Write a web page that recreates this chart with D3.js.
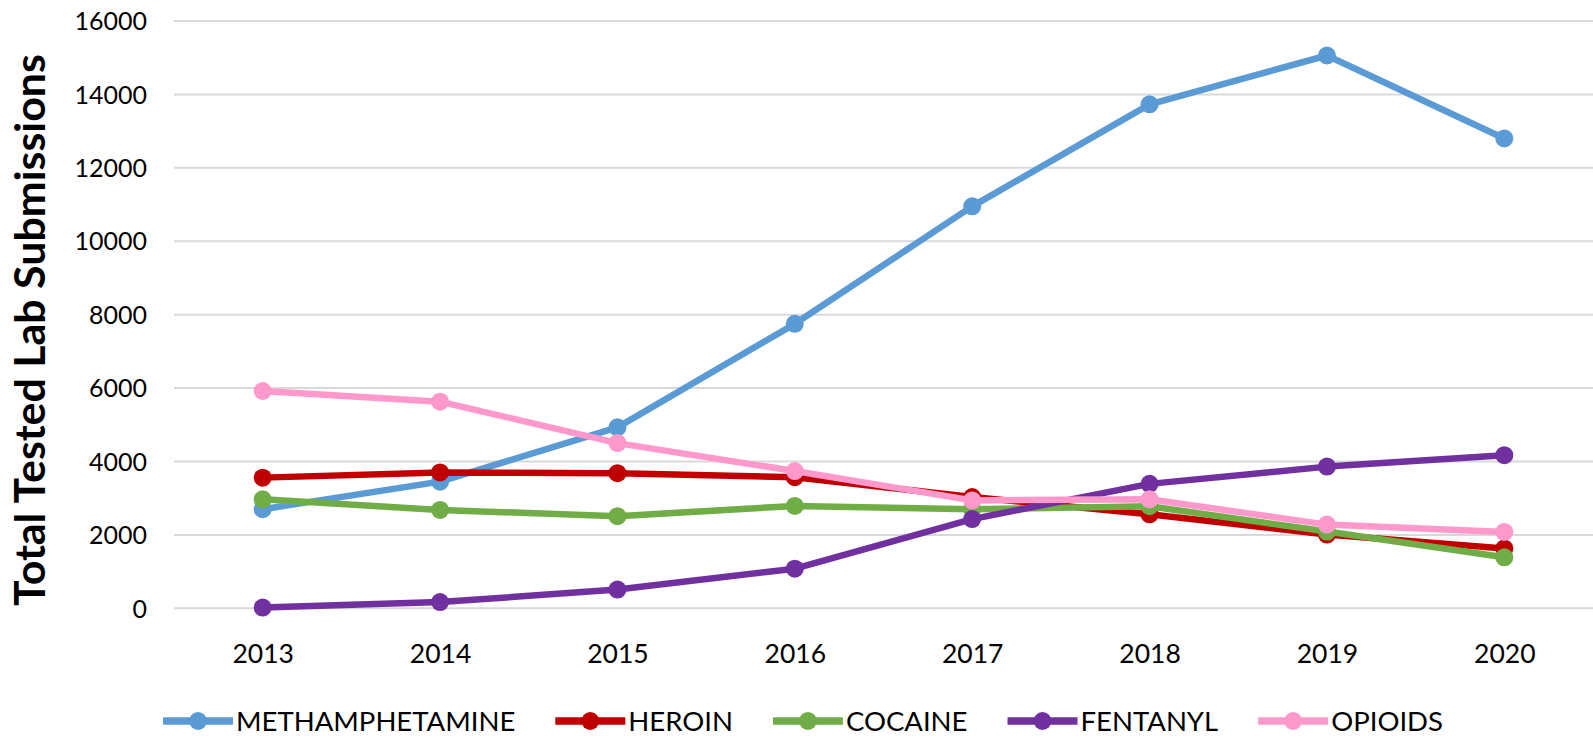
<!DOCTYPE html>
<html>
<head>
<meta charset="utf-8">
<script src="https://cdn.jsdelivr.net/npm/d3@7"></script>
<style>
  html, body { margin: 0; padding: 0; background: #ffffff; }
  svg { display: block; }
  text { font-family: Lato, "Open Sans", sans-serif; fill: #000; }
</style>
</head>
<body>
<svg id="chart" width="1593" height="736"></svg>
<script>
// ---- data ----
const years = ["2013", "2014", "2015", "2016", "2017", "2018", "2019", "2020"];
const methamphetamine = [2700, 3450, 4930, 7750, 10950, 13730, 15060, 12800];
const heroin          = [3560, 3700, 3680, 3570, 3030, 2560, 2010, 1630];
const cocaine         = [2970, 2680, 2510, 2790, 2700, 2780, 2090, 1390];
const fentanyl        = [20, 170, 510, 1080, 2430, 3390, 3860, 4170];
const opioids         = [5920, 5630, 4500, 3740, 2940, 2970, 2280, 2080];
const seriesNames  = ["METHAMPHETAMINE", "HEROIN", "COCAINE", "FENTANYL", "OPIOIDS"];
const seriesValues = [methamphetamine, heroin, cocaine, fentanyl, opioids];
const seriesColors = ["#5B9BD5", "#C00000", "#70AD47", "#7030A0", "#FF99CC"];
const yTicks = [0, 2000, 4000, 6000, 8000, 10000, 12000, 14000, 16000];
const yTitle = "Total Tested Lab Submissions";

// ---- layout ----
const W = 1593, H = 736;
const plotLeft = 174, plotRight = 1593, plotTop = 21, plotBottom = 608.3;

const svg = d3.select("#chart");

const x = d3.scalePoint().domain(years).range([plotLeft, plotRight]).padding(0.5);
const y = d3.scaleLinear().domain([0, 16000]).range([plotBottom, plotTop]);

// gridlines
svg.append("g").selectAll("line").data(yTicks).join("line")
  .attr("x1", plotLeft).attr("x2", plotRight)
  .attr("y1", d => y(d)).attr("y2", d => y(d))
  .attr("stroke", "#d9d9d9").attr("stroke-width", 2);

// y axis tick labels
const yAxis = d3.axisLeft(y).tickValues(yTicks).tickSize(0).tickPadding(0).tickFormat(d3.format("d"));
const gy = svg.append("g").attr("transform", "translate(147,0)").call(yAxis);
gy.select(".domain").remove();
gy.selectAll("text").attr("font-family", "Lato, sans-serif").attr("font-size", 25).attr("fill", "#000").attr("dy", "0.35em");

// x axis tick labels
const xAxis = d3.axisBottom(x).tickSize(0).tickPadding(0);
const gx = svg.append("g").attr("transform", "translate(0,663)").call(xAxis);
gx.select(".domain").remove();
gx.selectAll("text").attr("font-family", "Lato, sans-serif").attr("font-size", 26.5).attr("fill", "#000").attr("dy", 0);

// y title (fit to target length)
const yt = svg.append("text")
  .attr("transform", "translate(45,330) rotate(-90)")
  .attr("text-anchor", "middle")
  .attr("font-weight", "bold")
  .attr("font-size", 100)
  .text(yTitle);
const natural = yt.node().getComputedTextLength();
yt.attr("font-size", 100 * 552 / natural);

// series
const line = d3.line().x((d, i) => x(years[i])).y(d => y(d));
seriesValues.forEach((vals, s) => {
  const g = svg.append("g");
  g.append("path").datum(vals)
    .attr("d", line)
    .attr("fill", "none")
    .attr("stroke", seriesColors[s])
    .attr("stroke-width", 6.5)
    .attr("stroke-linejoin", "round");
  g.selectAll("circle").data(vals).join("circle")
    .attr("cx", (d, i) => x(years[i]))
    .attr("cy", d => y(d))
    .attr("r", 9)
    .attr("fill", seriesColors[s]);
});

// legend
const legend = svg.append("g");
const legY = 721;
const lineLen = 70, textGap = 3, itemGap = 40;
let cx = 0;
seriesNames.forEach((name, s) => {
  const g = legend.append("g").attr("transform", `translate(${cx},0)`);
  g.append("line").attr("x1", 0).attr("x2", lineLen).attr("y1", legY).attr("y2", legY)
    .attr("stroke", seriesColors[s]).attr("stroke-width", 7.5);
  g.append("circle").attr("cx", lineLen / 2).attr("cy", legY).attr("r", 9).attr("fill", seriesColors[s]);
  const t = g.append("text").attr("x", lineLen + textGap).attr("y", legY + 10)
    .attr("font-size", 27.5).attr("font-family", "Lato, sans-serif").text(name);
  cx += lineLen + textGap + t.node().getComputedTextLength() + itemGap;
});
const totalW = cx - itemGap;
legend.attr("transform", `translate(${803 - totalW / 2},0)`);
</script>
</body>
</html>
